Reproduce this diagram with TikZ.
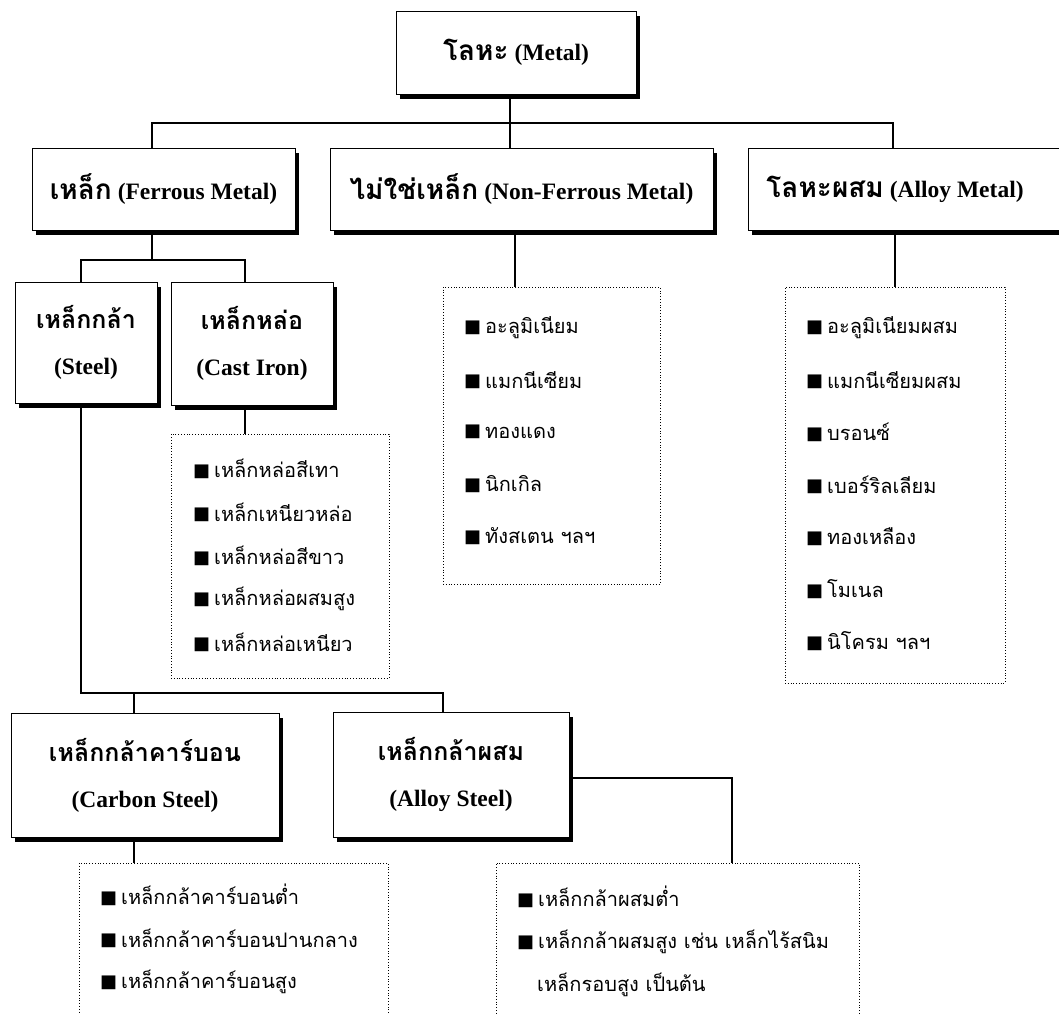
\documentclass[tikz,border=0pt]{standalone}
\usepackage{fontspec}
\setmainfont{Liberation Serif}
\newfontfamily\thai[Script=Thai]{Loma}
\newfontfamily\symb{DejaVu Sans}
\usetikzlibrary{shadows}
\newcommand{\tx}[1]{{\thai\fontsize{25}{30}\selectfont#1}}
\newcommand{\txl}[1]{{\thai\fontsize{28}{32}\selectfont#1}}
\newcommand{\sq}{\raisebox{1.5pt}{\symb\fontsize{18}{18}\selectfont ■}\hspace{4pt}}

\begin{document}
\begin{tikzpicture}[
    x=1pt, y=-1pt,
    box/.style={rectangle, draw=black, fill=white, line width=0.9pt, inner sep=0pt,
                drop shadow={shadow xshift=4pt, shadow yshift=-5pt, fill=black, opacity=1},
                align=center, font=\bfseries\fontsize{23.5}{46}\selectfont},
    list/.style={rectangle, draw=black, dotted, line width=0.8pt, inner sep=0pt},
    itm/.style={anchor=west, inner sep=0pt, font=\thai\fontsize{20}{22}\selectfont},
    wire/.style={black, line width=1.1pt},
]
\useasboundingbox (0,0) rectangle (1059,1013);

% ---------------------------------------------------------------- the boxes
\node[box, minimum width=240pt, minimum height=83pt] (metal) at (516, 52.5) {\txl{โลหะ} (Metal)};

\node[box, minimum width=263pt, minimum height=82pt] (ferrous) at (163.5, 189) {\txl{เหล็ก} (Ferrous Metal)};
\node[box, minimum width=383pt, minimum height=82pt] (nonferrous) at (521.5, 189) {\txl{ไม่ใช่เหล็ก} (Non-Ferrous Metal)};
\node[box, minimum width=314pt, minimum height=82pt] (alloymetal) at (905, 189) {\txl{โลหะผสม} (Alloy Metal)\hspace*{20pt}};

\node[box, minimum width=142pt, minimum height=121pt] (steel) at (86, 342.5) {\tx{เหล็กกล้า}\\(Steel)};
\node[box, minimum width=162pt, minimum height=123pt] (castiron) at (252, 343.5) {\tx{เหล็กหล่อ}\\(Cast Iron)};

\node[box, minimum width=268pt, minimum height=124pt] (carbon) at (145, 775) {\tx{เหล็กกล้าคาร์บอน}\\(Carbon Steel)};
\node[box, minimum width=236pt, minimum height=125pt] (alloysteel) at (451, 774.5) {\tx{เหล็กกล้าผสม}\\(Alloy Steel)};

% ---------------------------------------------------------------- the lists
\node[list, minimum width=217pt, minimum height=297pt] (nflist) at (551.5, 435.5) {};
\foreach \t [count=\i] in {อะลูมิเนียม, แมกนีเซียม, ทองแดง, นิกเกิล, ทังสเตน ฯลฯ}
    \node[itm] (nf\i) at (464, {328+(\i-1)*52}) {\sq\t};

\node[list, minimum width=220pt, minimum height=396pt] (amlist) at (895, 485) {};
\foreach \t [count=\i] in {อะลูมิเนียมผสม, แมกนีเซียมผสม, บรอนซ์, เบอร์ริลเลียม, ทองเหลือง, โมเนล, นิโครม ฯลฯ}
    \node[itm] (am\i) at (806, {328+(\i-1)*52.2}) {\sq\t};

\node[list, minimum width=218pt, minimum height=244pt] (castlist) at (280, 556) {};
\foreach \t [count=\i] in {เหล็กหล่อสีเทา, เหล็กเหนียวหล่อ, เหล็กหล่อสีขาว, เหล็กหล่อผสมสูง, เหล็กหล่อเหนียว}
    \node[itm] (ci\i) at (193, {469+(\i-1)*43.3}) {\sq\t};

\node[list, minimum width=309pt, minimum height=177pt] (carbonlist) at (233.5, 951.5) {};
\foreach \t [count=\i] in {เหล็กกล้าคาร์บอนต่ำ, เหล็กกล้าคาร์บอนปานกลาง, เหล็กกล้าคาร์บอนสูง}
    \node[itm] (cs\i) at (100, {895+(\i-1)*43.5}) {\sq\t};

\node[list, minimum width=363pt, minimum height=177pt] (aslist) at (677.5, 951.5) {};
\node[itm] (as1) at (517, 897) {\sq เหล็กกล้าผสมต่ำ};
\node[itm] (as2) at (517, 942) {\sq เหล็กกล้าผสมสูง เช่น เหล็กไร้สนิม};
\node[itm] (as3) at (537, 985) {เหล็กรอบสูง เป็นต้น};

% ---------------------------------------------------------------- connectors
\coordinate (j0) at (510, 123);
\coordinate (jl) at (152, 123);
\coordinate (jr) at (893, 123);
\coordinate (j1) at (515, 260);
\coordinate (j2) at (895, 260);
\draw[wire] (metal.south -| j0) -- (nonferrous.north -| j0);
\draw[wire] (ferrous.north -| jl) -- (jl) -- (jr) -- (alloymetal.north -| jr);
\draw[wire] (nonferrous.south -| j1) -- (nflist.north -| j1);
\draw[wire] (alloymetal.south -| j2) -- (amlist.north -| j2);

\coordinate (j3) at (152, 260);
\coordinate (j4) at (81, 260);
\coordinate (j5) at (245, 260);
\draw[wire] (ferrous.south -| j3) -- (j3);
\draw[wire] (steel.north -| j4) -- (j4) -- (j5) -- (castiron.north -| j5);
\draw[wire] (castiron.south -| j5) -- (castlist.north -| j5);

\coordinate (j6) at (81, 693);
\coordinate (j7) at (443, 693);
\coordinate (j8) at (134, 693);
\draw[wire] (steel.south -| j6) -- (j6) -- (j7) -- (alloysteel.north -| j7);
\draw[wire] (j8) -- (carbon.north -| j8);
\draw[wire] (carbon.south -| j8) -- (carbonlist.north -| j8);

\coordinate (j9) at (732, 778);
\draw[wire] (alloysteel.east |- j9) -- (j9) -- (aslist.north -| j9);
\end{tikzpicture}
\end{document}
